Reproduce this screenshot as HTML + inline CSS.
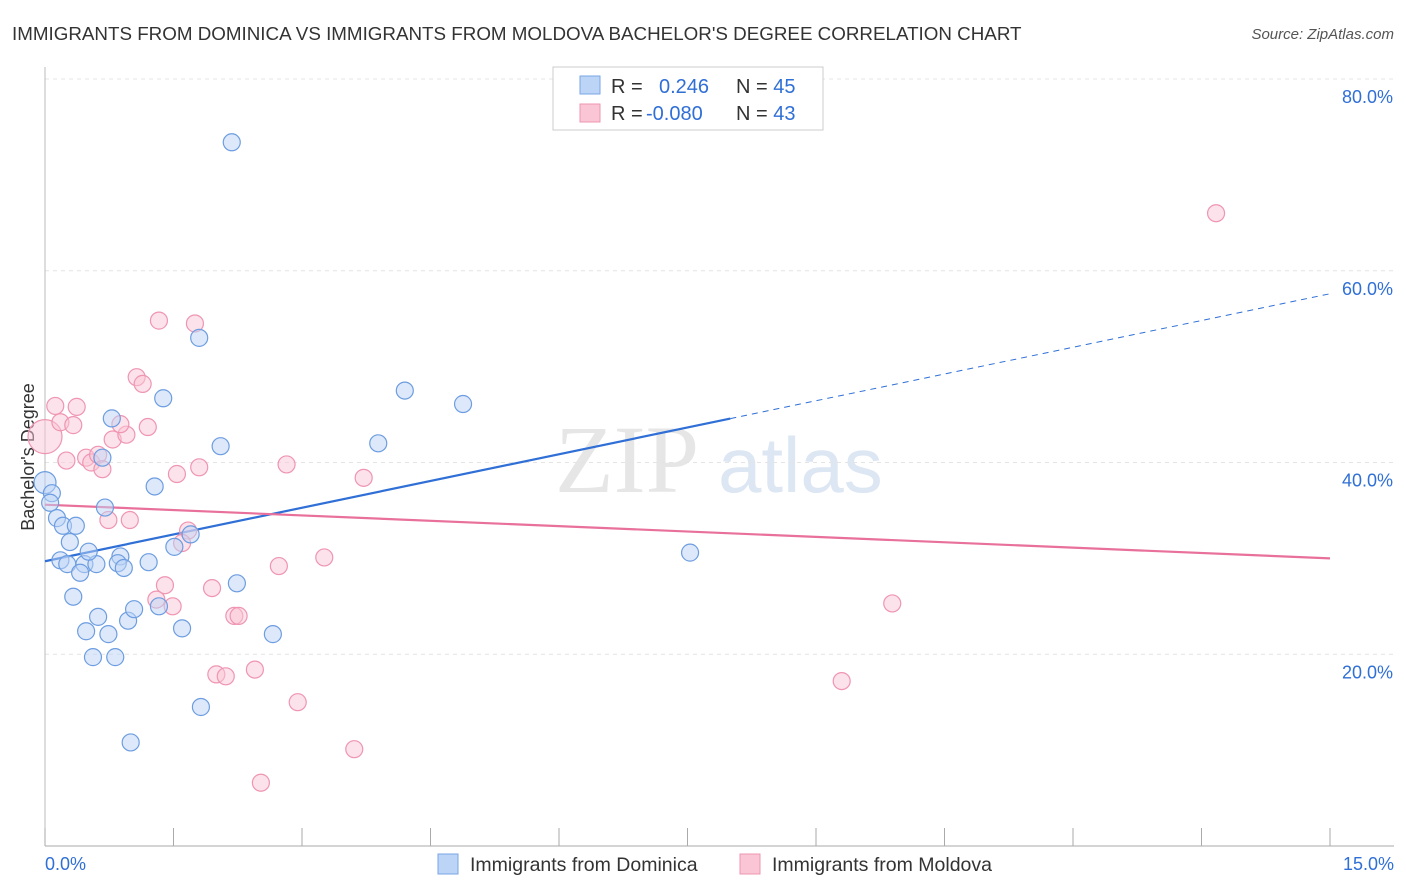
<!DOCTYPE html>
<html><head><meta charset="utf-8"><style>
body{margin:0;background:#fff;font-family:"Liberation Sans",sans-serif;}
#wrap{position:relative;width:1406px;height:892px;overflow:hidden;}
</style></head><body>
<div id="wrap">
<svg id="svg" width="1406" height="892" xmlns="http://www.w3.org/2000/svg">
<text x="12" y="40" font-size="18.8" fill="#333">IMMIGRANTS FROM DOMINICA VS IMMIGRANTS FROM MOLDOVA BACHELOR'S DEGREE CORRELATION CHART</text>
<text x="1394" y="39" font-size="15" fill="#555" font-style="italic" text-anchor="end">Source: ZipAtlas.com</text>
<text x="555" y="492" font-size="96" fill="#e6e6e6" font-family="Liberation Serif,serif">ZIP</text>
<text x="718" y="492" font-size="78" fill="#dde6f3">atlas</text>
<text transform="translate(34,457) rotate(-90)" font-size="18" fill="#333" text-anchor="middle">Bachelor's Degree</text>
<g id="grid"></g><g id="lines"></g><g id="pts"></g>
<g>
<rect x="553" y="67" width="270" height="63" fill="#fff" stroke="#ccc"/>
<rect x="580" y="76" width="20" height="18" fill="#bcd4f6" stroke="#7aa6e6"/>
<rect x="580" y="104" width="20" height="18" fill="#fac6d6" stroke="#ef95b2"/>
<text x="611" y="93" font-size="20" fill="#333">R = <tspan fill="#2f6fd6" x="659">0.246</tspan><tspan fill="#333" x="736">N = </tspan><tspan fill="#2f6fd6">45</tspan></text>
<text x="611" y="120" font-size="20" fill="#333">R = <tspan fill="#2f6fd6" x="646">-0.080</tspan><tspan fill="#333" x="736">N = </tspan><tspan fill="#2f6fd6">43</tspan></text>
</g>
<g>
<rect x="438" y="854" width="20" height="20" fill="#bcd4f6" stroke="#7aa6e6"/>
<text x="470" y="871" font-size="19.5" fill="#333">Immigrants from Dominica</text>
<rect x="740" y="854" width="20" height="20" fill="#fac6d6" stroke="#ef95b2"/>
<text x="772" y="871" font-size="19.5" fill="#333">Immigrants from Moldova</text>
</g>
</svg>
</div>
<script>
const yTicks=[20,40,60,80];
const xTickLabels=["0.0%","15.0%"];
const blueX=[0,0.08,0.06,0.14,0.21,0.36,0.29,0.18,0.26,0.46,0.60,0.41,0.51,0.88,0.85,0.92,1.21,0.33,0.62,0.48,0.74,0.97,1.04,1.33,1.60,0.56,0.82,1.00,1.82,2.24,2.66,1.51,1.70,1.28,0.70,0.67,0.78,1.38,2.05,1.80,2.18,3.89,4.20,4.88,7.53];
const blueY=[37.9,36.8,35.8,34.2,33.4,33.4,31.7,29.8,29.4,29.4,29.4,28.5,30.7,30.2,29.5,29.0,29.6,26.0,23.9,22.4,22.1,23.5,24.7,25.0,22.7,19.7,19.7,10.8,14.5,27.4,22.1,31.2,32.5,37.5,35.3,40.5,44.6,46.7,41.7,53.0,73.4,42.0,47.5,46.1,30.6];
const pinkX=[0,0.12,0.18,0.33,0.37,0.25,0.48,0.54,0.62,0.67,0.79,0.95,0.88,1.20,1.07,1.14,1.33,1.75,1.54,1.80,0.74,0.99,1.67,1.60,1.40,1.30,1.49,1.95,2.21,2.26,2.73,2.82,3.26,3.72,2.00,2.11,2.45,2.95,3.61,2.52,9.30,9.89,13.67];
const pinkY=[42.7,45.9,44.2,43.9,45.8,40.2,40.5,40.0,40.8,39.3,42.4,42.9,44.0,43.7,48.9,48.2,54.8,54.5,38.8,39.5,34.0,34.0,32.9,31.6,27.2,25.7,25.0,26.9,24.0,24.0,29.2,39.8,30.1,38.4,17.9,17.7,18.4,15.0,10.1,6.6,17.2,25.3,66.0];
const blueTrend=[29.7,57.6];
const blueSolidEnd=8.0;
const pinkTrend=[35.6,30.0];
const NS="http://www.w3.org/2000/svg";
const xs=v=>45+v/15*1285, ys=v=>846-v/20*191.75;
function mk(t,a,p){const e=document.createElementNS(NS,t);for(const k in a)e.setAttribute(k,a[k]);p.appendChild(e);return e;}
const grid=document.getElementById('grid');
yTicks.forEach(t=>{
 const l=mk('line',{x1:45,x2:1394,y1:ys(t),y2:ys(t),stroke:'#e4e4e4','stroke-dasharray':'4,4'},grid);
 
 
 const tx=mk('text',{x:1393,y:ys(t)+24,'font-size':18,fill:'#2f6fd6','text-anchor':'end'},grid);tx.textContent=t.toFixed(1)+'%';
 
 
});
const ax=mk('line',{x1:45,x2:1394,y1:846,y2:846,stroke:'#aaa'},grid);


const ay=mk('line',{x1:45,x2:45,y1:67,y2:846,stroke:'#bbb'},grid);


for(let i=0;i<=10;i++){const t=mk('line',{x1:xs(i*1.5),x2:xs(i*1.5),y1:828,y2:846,stroke:'#aaa'},grid);
 
 }
[[0,'start',45],[1,'end',1394]].forEach(([i,a,x])=>{const t=mk('text',{x:x,y:870,'font-size':18,fill:'#2f6fd6','text-anchor':a},grid);t.textContent=xTickLabels[i];
 
 });
const pts=document.getElementById('pts');
function dots(X,Y,fill,stroke,name){X.forEach((x,i)=>{const r=i===0?(name==='pink'?17:11):8.5;
 const c=mk('circle',{cx:xs(x),cy:ys(Y[i]),r:r,fill:fill,'fill-opacity':0.5,stroke:stroke,'stroke-width':1.2},pts);
 
 });}
dots(pinkX,pinkY,'#fac6d6','#ef95b2','pink');
dots(blueX,blueY,'#bcd4f6','#6d9de0','blue');
const lines=document.getElementById('lines');
const bAt=x=>blueTrend[0]+(blueTrend[1]-blueTrend[0])*x/15;
const b1=mk('line',{x1:xs(0),y1:ys(blueTrend[0]),x2:xs(blueSolidEnd),y2:ys(bAt(blueSolidEnd)),stroke:'#2f6fd6','stroke-width':2.2},lines);


const b2=mk('line',{x1:xs(blueSolidEnd),y1:ys(bAt(blueSolidEnd)),x2:xs(15),y2:ys(blueTrend[1]),stroke:'#2f6fd6','stroke-width':1,'stroke-dasharray':'6,5'},lines);


const p1=mk('line',{x1:xs(0),y1:ys(pinkTrend[0]),x2:xs(15),y2:ys(pinkTrend[1]),stroke:'#e8709a','stroke-width':2.2},lines);


</script>
</body></html>
